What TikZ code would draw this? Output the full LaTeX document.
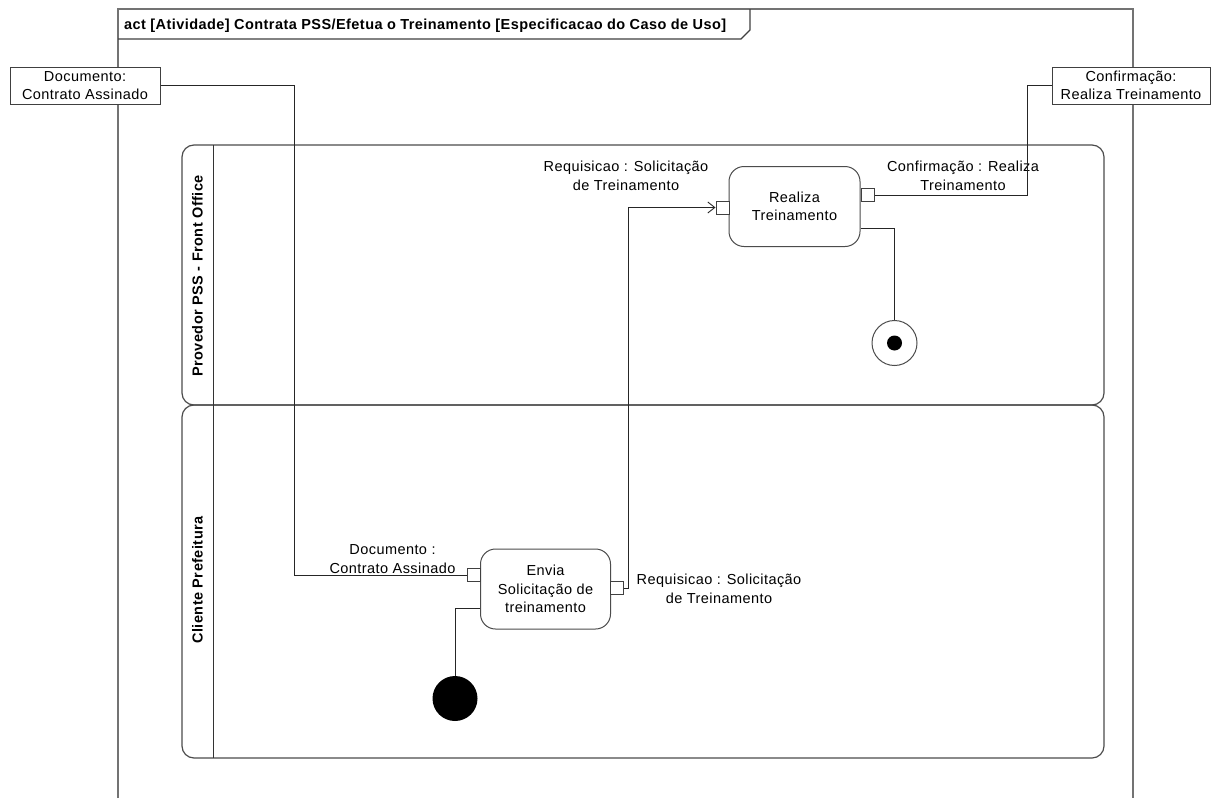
\documentclass[tikz,border=0pt]{standalone}
\usepackage{fontspec}
\setmainfont{Liberation Sans}[LetterSpace=3]
\usetikzlibrary{calc,arrows.meta}
\begin{document}
\begin{tikzpicture}[x=1pt,y=-1pt,
  every node/.style={font=\fontsize{14.5}{18.5}\selectfont, text=black},
  objbox/.style={draw=black!75, line width=1pt, fill=white, minimum width=150pt,
    minimum height=37pt, inner sep=0pt, align=center},
  actbox/.style={draw=black!70, line width=1pt, rounded corners=15pt, fill=white,
    minimum width=131pt, minimum height=80pt, inner sep=0pt, align=center},
  pin/.style={draw=black!75, line width=1pt, fill=white, minimum size=13pt, inner sep=0pt},
  flow/.style={draw=black!85, line width=0.9pt},
  lane/.style={draw=black!70, line width=1.2pt, rounded corners=12pt},
  frame/.style={draw=black!55, line width=1.2pt},
  lbl/.style={align=center, inner sep=0pt},
  lanelbl/.style={font=\fontsize{14.5}{18.5}\selectfont\bfseries, rotate=90, inner sep=0pt},
  ]
\useasboundingbox (0,0) rectangle (1217,798);
\fill[white] (0,0) rectangle (1217,798);

% activity frame and its name tab
\draw[frame] (118,798) -- (118,9) -- (1133,9) -- (1133,798);
\draw[frame, draw=black!75] (118,39) -- (741,39) -- (750,30) -- (750,9);
\node[anchor=base west, font=\fontsize{14.5}{18.5}\selectfont\bfseries, inner sep=0pt] (title) at (124,29)
  {act [Atividade] Contrata PSS/Efetua o Treinamento [Especificacao do Caso de Uso]};

% swimlanes
\draw[lane] (182,145) rectangle (1104,405);
\draw[lane] (182,405) rectangle (1104,758);
\draw[draw=black!80, line width=1pt] (213,145) -- (213,758);
\node[lanelbl] (laneA) at (197.5,276) {Provedor PSS - Front Office};
\node[lanelbl] (laneB) at (197.5,580) {Cliente Prefeitura};

% parameter objects
\node[objbox] (doc) at (85,85.5) {Documento:\\Contrato Assinado};
\node[objbox, minimum width=158pt] (conf) at (1131,85.5) {Confirmação:\\Realiza Treinamento};

% actions
\node[actbox] (realiza) at (794.5,206.5) {Realiza\\Treinamento};
\node[actbox, minimum width=130pt] (envia) at (545.5,589) {Envia\\Solicitação de\\treinamento};

% pins
\node[pin] (pinA) at (722.5,207.5) {};
\node[pin] (poutA) at (867.5,195) {};
\node[pin] (pinB) at (473.5,575) {};
\node[pin] (poutB) at (616.5,588) {};

% initial and final nodes
\node[circle, fill=black, minimum size=45pt, inner sep=0pt] (start) at (455,698.5) {};
\node[circle, draw=black!70, line width=1pt, fill=white, minimum size=45pt, inner sep=0pt] (stop) at (894.5,343) {};
\node[circle, fill=black, minimum size=15pt, inner sep=0pt] (stopdot) at (stop.center) {};

% pin labels
\node[lbl] (lblA) at (626,176) {Requisicao : Solicitação\\de Treinamento};
\node[lbl] (lblB) at (963,176) {Confirmação : Realiza\\Treinamento};
\node[lbl] (lblC) at (392.5,559) {Documento :\\Contrato Assinado};
\node[lbl] (lblD) at (719,589) {Requisicao : Solicitação\\de Treinamento};

% flows
\coordinate (docBend) at (294,575);
\coordinate (confBend) at (1027,195);
\coordinate (reqBend) at (628,207.5);
\draw[flow] (doc.east) -| (docBend) -- (pinB.west);
\draw[flow] (conf.west) -| (confBend) -- (poutA.east);
\draw[flow, -{Straight Barb[length=7pt,width=11pt]}] (poutB.east) -| (reqBend) -- (pinA.west);
\draw[flow] ($(realiza.east)+(0,22)$) -| (stop.north);
\draw[flow] (start.north) |- ($(envia.west)+(0,19)$);
\end{tikzpicture}
\end{document}
